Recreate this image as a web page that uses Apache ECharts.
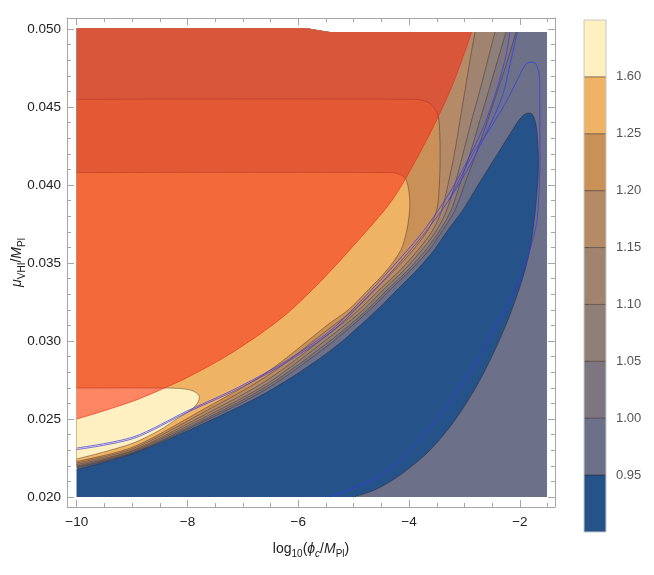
<!DOCTYPE html>
<html><head><meta charset="utf-8">
<script src="https://cdn.jsdelivr.net/npm/echarts@6/dist/echarts.min.js"></script>
<style>html,body{margin:0;padding:0;background:#fff}#c{width:654px;height:575px}</style>
</head><body><div id="c"></div>
<script>
// ---------- tick values ----------
const xTicks = [-10, -8, -6, -4, -2];
const xMinor = [-10,-9.5,-9,-8.5,-8,-7.5,-7,-6.5,-6,-5.5,-5,-4.5,-4,-3.5,-3,-2.5,-2,-1.5];
const yTicks = [0.020, 0.025, 0.030, 0.035, 0.040, 0.045, 0.050];
const yMinor = [0.020,0.021,0.022,0.023,0.024,0.025,0.026,0.027,0.028,0.029,0.030,0.031,0.032,0.033,0.034,0.035,0.036,0.037,0.038,0.039,0.040,0.041,0.042,0.043,0.044,0.045,0.046,0.047,0.048,0.049,0.050];
// ---------- colour bar ----------
const levelLabels = ['0.95','1.00','1.05','1.10','1.15','1.20','1.25','1.60'];
const bandColors = ['#245289','#6C7089','#7D7681','#8E7F78','#A08470','#B58A67','#C99158','#EEB364','#FEF0C0'];
// ---------- plot domain ----------
const domainBottom = [[-10, 0.020], [-1.51, 0.020], [-1.51, 0.04981]];
const topEdge = [[-5.43, 0.04981], [-5.84, 0.05006], [-10, 0.05006]];
// ---------- contour lines (x = log10(phi_c/MPl), y = mu/MPl) ----------
const c160 = [[-10,0.02699],[-8.50,0.02699],[-8.14,0.02696],[-7.95,0.02686],[-7.85,0.02670],[-7.79,0.02647],[-7.80,0.02615],[-7.86,0.02583],[-7.99,0.02545],[-8.14,0.02513],[-8.50,0.02429],[-8.98,0.02346],[-9.58,0.02282],[-10,0.02244]];
const c125 = [[-10,0.02228],[-8.98,0.02321],[-7.77,0.02551],[-6.56,0.02801],[-5.43,0.03115],[-5.10,0.03199],[-4.74,0.03327],[-4.40,0.03455],[-4.15,0.03583],[-4.04,0.03712],[-3.99,0.03840],[-3.99,0.03917],[-4.02,0.03994],[-4.07,0.04045],[-4.16,0.04067],[-4.31,0.04080],[-10,0.04080]];
const c120 = [[-10,0.02218],[-8.98,0.02311],[-7.77,0.02532],[-6.56,0.02776],[-5.43,0.03083],[-5.00,0.03199],[-4.63,0.03327],[-4.26,0.03455],[-3.93,0.03583],[-3.66,0.03712],[-3.50,0.03840],[-3.45,0.04032],[-3.44,0.04224],[-3.46,0.04417],[-3.50,0.04468],[-3.59,0.04513],[-3.71,0.04538],[-3.89,0.04550],[-10,0.04550]];
const c115 = [[-10,0.02208],[-8.98,0.02301],[-7.77,0.02513],[-6.56,0.02750],[-5.43,0.03051],[-4.91,0.03199],[-4.54,0.03327],[-4.16,0.03455],[-3.84,0.03583],[-3.57,0.03712],[-3.41,0.03840],[-3.28,0.04032],[-3.17,0.04224],[-3.08,0.04417],[-2.99,0.04609],[-2.90,0.04801],[-2.81,0.04981]];
const c110 = [[-10,0.02199],[-8.98,0.02295],[-7.77,0.02497],[-6.56,0.02728],[-5.43,0.03026],[-4.83,0.03199],[-4.47,0.03327],[-4.09,0.03455],[-3.77,0.03583],[-3.50,0.03712],[-3.32,0.03840],[-3.15,0.04032],[-3.01,0.04224],[-2.87,0.04417],[-2.72,0.04609],[-2.58,0.04801],[-2.45,0.04981]];
const c105 = [[-10,0.02192],[-8.98,0.02288],[-7.77,0.02484],[-6.56,0.02712],[-5.43,0.03000],[-4.76,0.03199],[-4.40,0.03327],[-4.02,0.03455],[-3.70,0.03583],[-3.44,0.03712],[-3.24,0.03840],[-3.06,0.04032],[-2.88,0.04224],[-2.72,0.04417],[-2.56,0.04609],[-2.40,0.04801],[-2.25,0.04981]];
const c100 = [[-10,0.02186],[-8.98,0.02283],[-7.77,0.02474],[-6.56,0.02696],[-5.43,0.02981],[-4.71,0.03199],[-4.35,0.03327],[-3.97,0.03455],[-3.64,0.03583],[-3.39,0.03712],[-3.17,0.03840],[-2.97,0.04032],[-2.77,0.04224],[-2.58,0.04417],[-2.40,0.04609],[-2.22,0.04801],[-2.07,0.04981]];
const c095 = [[-10,0.02176],[-8.98,0.02279],[-7.77,0.02462],[-6.56,0.02673],[-5.43,0.02936],[-4.58,0.03199],[-4.22,0.03327],[-3.86,0.03455],[-3.55,0.03583],[-3.30,0.03712],[-3.03,0.03840],[-2.70,0.04032],[-2.36,0.04224],[-2.03,0.04410],[-1.93,0.04449],[-1.85,0.04462],[-1.78,0.04455],[-1.71,0.04391],[-1.67,0.04224],[-1.67,0.04064],[-1.73,0.03808],[-1.82,0.03583],[-1.96,0.03391],[-2.18,0.03167],[-2.45,0.02942],[-2.77,0.02718],[-3.17,0.02494],[-3.62,0.02301],[-4.16,0.02141],[-4.62,0.02045],[-5.01,0.02000]];
// ---------- excluded (red) region ----------
const redEdge = [[-10,0.02500],[-9.58,0.02545],[-8.98,0.02615],[-8.55,0.02678],[-7.95,0.02776],[-7.18,0.02929],[-6.28,0.03154],[-5.61,0.03378],[-5.01,0.03609],[-4.40,0.03859],[-4.11,0.04013],[-3.62,0.04333],[-3.21,0.04647],[-2.87,0.04981]];
// ---------- blue curves ----------
const blueA = [[-10,0.02314],[-8.98,0.02385],[-8.01,0.02551],[-7.18,0.02686],[-6.28,0.02859],[-5.43,0.03064],[-4.89,0.03250],[-4.35,0.03455],[-3.80,0.03679],[-3.35,0.03904],[-2.99,0.04128],[-2.68,0.04353],[-2.45,0.04577],[-2.27,0.04801],[-2.18,0.04981]];
const blueB = [[-10,0.02304],[-8.98,0.02375],[-8.01,0.02542],[-7.18,0.02676],[-6.28,0.02849],[-5.43,0.03051],[-4.85,0.03244],[-4.29,0.03455],[-3.75,0.03679],[-3.28,0.03904],[-2.90,0.04128],[-2.58,0.04353],[-2.31,0.04577],[-2.16,0.04801],[-2.05,0.04981]];
const blueLoop = [[-3.28,0.03904],[-2.81,0.04224],[-2.59,0.04333],[-2.41,0.04436],[-2.23,0.04545],[-2.03,0.04686],[-1.89,0.04776],[-1.78,0.04788],[-1.71,0.04776],[-1.65,0.04705],[-1.64,0.04545],[-1.64,0.04353],[-1.64,0.04096],[-1.69,0.03776],[-1.82,0.03583],[-2.03,0.03372],[-2.27,0.03199],[-2.49,0.03071],[-2.81,0.02846],[-3.21,0.02641],[-3.62,0.02442],[-4.11,0.02256],[-4.56,0.02128],[-5.01,0.02058],[-5.43,0.02000]];

const chart = echarts.init(document.getElementById('c'), null, {renderer: 'canvas'});
const FONT = "'Liberation Sans', Arial, sans-serif";
const SMOOTH = 0.3;
const minus = v => String(v).replace('-', '\u2212');
let zc = 10;
// filled region: smooth curve part + sharp corners along the plot edge
function poly(curve, corners, fill) {
  const z = zc++;
  return {
    type: 'custom', xAxisIndex: 0, yAxisIndex: 0, silent: true, z: z,
    data: [0],
    renderItem: (params, api) => {
      const pts = [];
      if (curve.length) {
        const pc = curve.map(p => api.coord(p));
        pts.push(pc[0]);
        pc.forEach(c => pts.push(c));
        pts.push(pc[pc.length - 1].slice());
      }
      corners.forEach(p => { const c = api.coord(p); pts.push(c, c.slice()); });
      return {type: 'polygon', shape: {points: pts, smooth: curve.length ? SMOOTH : 0}, style: {fill: fill, stroke: 'none'}};
    }
  };
}
function line(curve, color, width) {
  const z = zc++;
  return {
    type: 'custom', xAxisIndex: 0, yAxisIndex: 0, silent: true, z: z,
    data: [0],
    renderItem: (params, api) => ({
      type: 'polyline',
      shape: {points: curve.map(p => api.coord(p)), smooth: SMOOTH},
      style: {fill: 'none', stroke: color, lineWidth: width}
    })
  };
}
const CL = 'rgba(45,30,25,0.5)';
const BL = 'rgba(55,55,235,0.8)';
const series = [
  poly([], domainBottom.concat(topEdge), bandColors[1]),
  poly(c100, topEdge, bandColors[2]),
  poly(c105, topEdge, bandColors[3]),
  poly(c110, topEdge, bandColors[4]),
  poly(c115, topEdge, bandColors[5]),
  poly(c120, [], bandColors[6]),
  poly(c125, [], bandColors[7]),
  poly(c160, [], bandColors[8]),
  poly(c095, [[-10, 0.020]], bandColors[0]),
  line(c160, CL, 0.8),
  line(c125, CL, 0.8),
  line(c120, CL, 0.8),
  line(c115, CL, 0.8),
  line(c110, CL, 0.8),
  line(c105, CL, 0.8),
  line(c100, CL, 0.8),
  line(c095, CL, 0.8),
  poly(redEdge, topEdge, 'rgba(249,43,22,0.54)'),
  line(redEdge, 'rgba(235,45,20,0.85)', 0.8),
  line(blueA, BL, 0.9),
  line(blueB, BL, 0.9),
  line(blueLoop, BL, 0.9),
  // colour bar
  {
    type: 'custom', xAxisIndex: 4, yAxisIndex: 4, silent: true, z: 50,
    data: bandColors.map((c, i) => [i, c]),
    renderItem: (params, api) => {
      const i = api.value(0);
      const a = api.coord([0, i + 1]);
      const b = api.coord([1, i]);
      const children = [{type: 'rect', shape: {x: a[0], y: a[1], width: b[0] - a[0], height: b[1] - a[1]}, style: {fill: bandColors[i]}}];
      if (i > 0) children.push({type: 'line', shape: {x1: a[0], y1: b[1], x2: b[0], y2: b[1]}, style: {stroke: 'rgba(40,30,30,0.55)', lineWidth: 1}});
      return {type: 'group', children: children};
    }
  },
  {
    type: 'custom', xAxisIndex: 4, yAxisIndex: 4, silent: true, z: 51,
    data: [0],
    renderItem: (params, api) => {
      const a = api.coord([0, 9]);
      const b = api.coord([1, 0]);
      return {type: 'rect', shape: {x: a[0], y: a[1], width: b[0] - a[0], height: b[1] - a[1]}, style: {fill: 'none', stroke: '#c8c8c8', lineWidth: 1}};
    }
  }
];

const axisCol = '#a6a6a6';
const TXT = '#222';
const baseX = {type: 'value', gridIndex: 0, min: -10.175, max: -1.366, splitLine: {show: false}};
const baseY = {type: 'value', gridIndex: 0, min: 0.01936, max: 0.05071, splitLine: {show: false}};
const option = {
  animation: false,
  backgroundColor: '#fff',
  grid: [
    {left: 67, top: 18, width: 488, height: 489, containLabel: false, outerBoundsMode: 'none'},
    {left: 584, top: 20, width: 22, height: 512, containLabel: false, outerBoundsMode: 'none'}
  ],
  xAxis: [
    Object.assign({}, baseX, {position: 'bottom',
      axisLine: {show: true, onZero: false, lineStyle: {color: axisCol, width: 1}},
      axisTick: {show: true, inside: true, length: 7, customValues: xTicks, lineStyle: {color: axisCol}},
      axisLabel: {show: true, customValues: xTicks, margin: 8, color: TXT, fontSize: 13.5, fontFamily: FONT, formatter: v => minus(v)},
      name: '{n|log}{s|10}{n|(}{i|\u03D5}{si|c}{n|/}{i|M}{s|Pl}{n|)}',
      nameLocation: 'middle', nameGap: 32, nameMoveOverlap: false,
      nameTextStyle: {rich: {
        n: {fontSize: 14, fontFamily: FONT, color: TXT, lineHeight: 20, verticalAlign: 'middle'},
        i: {fontSize: 14, fontFamily: FONT, fontStyle: 'italic', color: TXT, lineHeight: 20, verticalAlign: 'middle'},
        s: {fontSize: 10, fontFamily: FONT, color: TXT, lineHeight: 10, verticalAlign: 'bottom'},
        si: {fontSize: 10, fontFamily: FONT, fontStyle: 'italic', color: TXT, lineHeight: 10, verticalAlign: 'bottom'}
      }}
    }),
    Object.assign({}, baseX, {position: 'bottom', axisLine: {show: false, onZero: false},
      axisTick: {show: true, inside: true, length: 4, customValues: xMinor, lineStyle: {color: axisCol}},
      axisLabel: {show: false}}),
    Object.assign({}, baseX, {position: 'top',
      axisLine: {show: true, onZero: false, lineStyle: {color: axisCol, width: 1}},
      axisTick: {show: true, inside: true, length: 7, customValues: xTicks, lineStyle: {color: axisCol}},
      axisLabel: {show: false}}),
    Object.assign({}, baseX, {position: 'top', axisLine: {show: false, onZero: false},
      axisTick: {show: true, inside: true, length: 4, customValues: xMinor, lineStyle: {color: axisCol}},
      axisLabel: {show: false}}),
    {type: 'value', gridIndex: 1, min: 0, max: 1, show: false}
  ],
  yAxis: [
    Object.assign({}, baseY, {position: 'left',
      axisLine: {show: true, onZero: false, lineStyle: {color: axisCol, width: 1}},
      axisTick: {show: true, inside: true, length: 7, customValues: yTicks, lineStyle: {color: axisCol}},
      axisLabel: {show: true, customValues: yTicks, margin: 6, color: TXT, fontSize: 13.5, fontFamily: FONT, formatter: v => v.toFixed(3)},
      name: '{i|\u03BC}{s|VHI}{n|/}{i|M}{s|Pl}',
      nameLocation: 'middle', nameGap: 40, nameRotate: 90, nameMoveOverlap: false,
      nameTextStyle: {rich: {
        n: {fontSize: 14, fontFamily: FONT, color: TXT, lineHeight: 20, verticalAlign: 'middle'},
        i: {fontSize: 14, fontFamily: FONT, fontStyle: 'italic', color: TXT, lineHeight: 20, verticalAlign: 'middle'},
        s: {fontSize: 10, fontFamily: FONT, color: TXT, lineHeight: 10, verticalAlign: 'bottom'}
      }}
    }),
    Object.assign({}, baseY, {position: 'left', axisLine: {show: false, onZero: false},
      axisTick: {show: true, inside: true, length: 4, customValues: yMinor, lineStyle: {color: axisCol}},
      axisLabel: {show: false}}),
    Object.assign({}, baseY, {position: 'right',
      axisLine: {show: true, onZero: false, lineStyle: {color: axisCol, width: 1}},
      axisTick: {show: true, inside: true, length: 7, customValues: yTicks, lineStyle: {color: axisCol}},
      axisLabel: {show: false}}),
    Object.assign({}, baseY, {position: 'right', axisLine: {show: false, onZero: false},
      axisTick: {show: true, inside: true, length: 4, customValues: yMinor, lineStyle: {color: axisCol}},
      axisLabel: {show: false}}),
    {type: 'value', gridIndex: 1, min: 0, max: 9, position: 'right',
      axisLine: {show: false}, splitLine: {show: false},
      axisTick: {show: true, inside: false, length: 5, customValues: [1,2,3,4,5,6,7,8], lineStyle: {color: axisCol}},
      axisLabel: {show: true, customValues: [1,2,3,4,5,6,7,8], margin: 10, color: '#555', fontSize: 13, fontFamily: FONT,
        formatter: v => levelLabels[Math.round(v) - 1]}}
  ],
  series: series
};
chart.setOption(option);
</script>
</body></html>
